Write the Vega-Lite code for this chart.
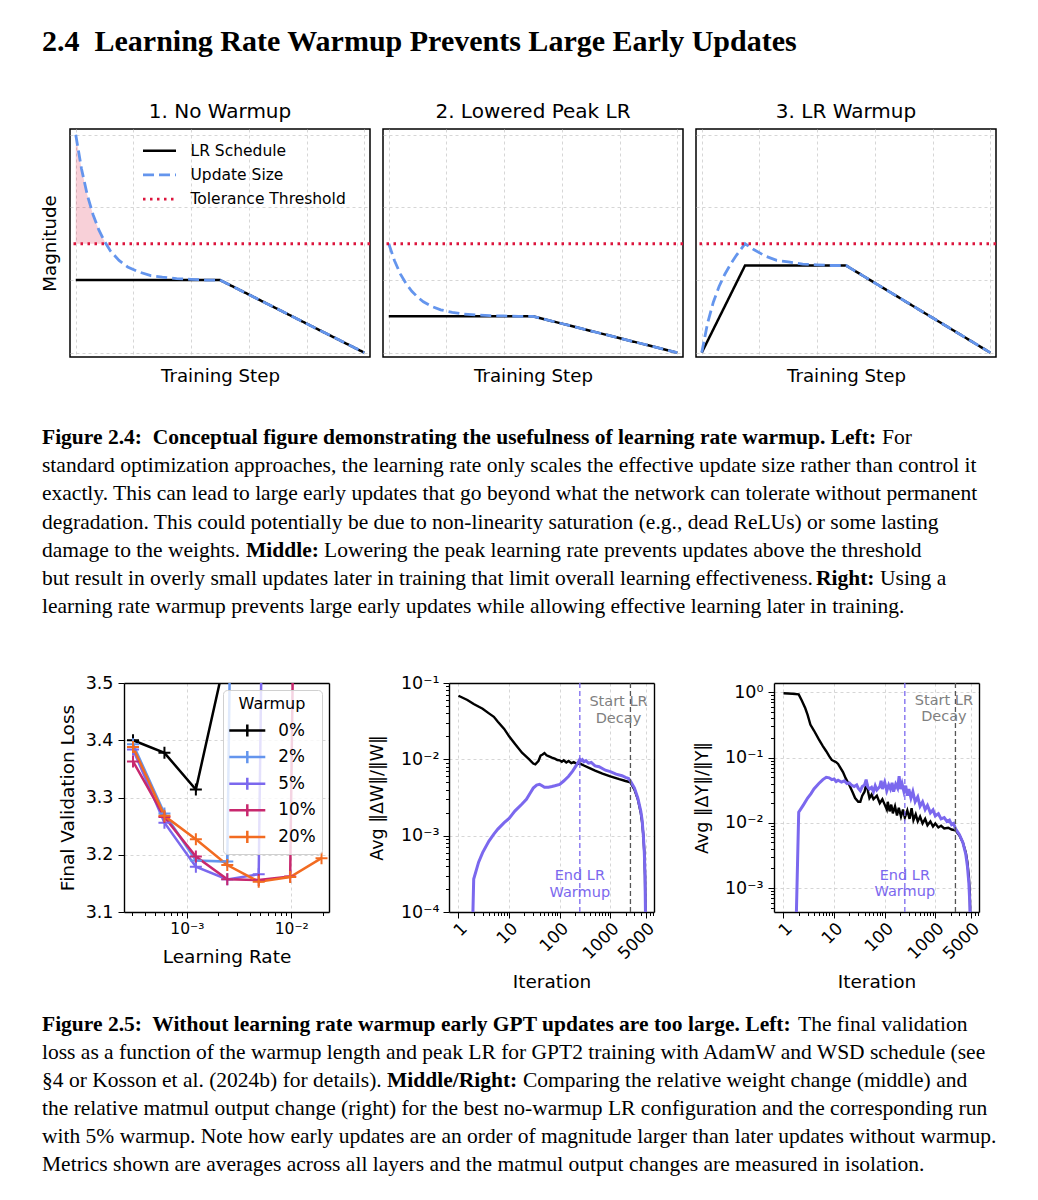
{
"$schema": "https://vega.github.io/schema/vega-lite/v6.json",
"padding": 0,
"autosize": {"type": "pad"},
"background": "white",
"config": {
  "font": "DejaVu Sans",
  "view": {"stroke": null},
  "axis": {"domain": false, "tickColor": "#000000", "labelColor": "#000000", "titleColor": "#000000", "titleFontWeight": "normal", "gridColor": "#cccccc", "gridDash": [3, 3], "gridWidth": 0.8, "tickWidth": 1, "domainColor": "#000000", "domainWidth": 1.4},
  "legend": {"labelColor": "#000000", "titleColor": "#000000"},
  "title": {"fontWeight": "normal", "color": "#000000"}
},
"datasets": {
  "heading": [{"line": 1, "text": "2.4\u00a0\u00a0Learning Rate Warmup Prevents Large Early Updates"}],
  "cap1": [
    {"line": 1, "seg": "b0", "text": "Figure 2.4:\u00a0 Conceptual figure demonstrating the usefulness of learning rate warmup. Left:"},
    {"line": 1, "seg": "a", "text": "For"},
    {"line": 2, "seg": "n0", "text": "standard optimization approaches, the learning rate only scales the effective update size rather than control it"},
    {"line": 3, "seg": "n0", "text": "exactly. This can lead to large early updates that go beyond what the network can tolerate without permanent"},
    {"line": 4, "seg": "n0", "text": "degradation. This could potentially be due to non-linearity saturation (e.g., dead ReLUs) or some lasting"},
    {"line": 5, "seg": "n0", "text": "damage to the weights."},
    {"line": 5, "seg": "m", "text": "Middle:"},
    {"line": 5, "seg": "m2", "text": "Lowering the peak learning rate prevents updates above the threshold"},
    {"line": 6, "seg": "n0", "text": "but result in overly small updates later in training that limit overall learning effectiveness."},
    {"line": 6, "seg": "r", "text": "Right:"},
    {"line": 6, "seg": "r2", "text": "Using a"},
    {"line": 7, "seg": "n0", "text": "learning rate warmup prevents large early updates while allowing effective learning later in training."}
  ],
  "cap2": [
    {"line": 1, "seg": "b0", "text": "Figure 2.5:\u00a0 Without learning rate warmup early GPT updates are too large. Left:"},
    {"line": 1, "seg": "f", "text": "The final validation"},
    {"line": 2, "seg": "n0", "text": "loss as a function of the warmup length and peak LR for GPT2 training with AdamW and WSD schedule (see"},
    {"line": 3, "seg": "n0", "text": "§4 or Kosson et al. (2024b) for details)."},
    {"line": 3, "seg": "mr", "text": "Middle/Right:"},
    {"line": 3, "seg": "mr2", "text": "Comparing the relative weight change (middle) and"},
    {"line": 4, "seg": "n0", "text": "the relative matmul output change (right) for the best no-warmup LR configuration and the corresponding run"},
    {"line": 5, "seg": "n0", "text": "with 5% warmup. Note how early updates are an order of magnitude larger than later updates without warmup."},
    {"line": 6, "seg": "n0", "text": "Metrics shown are averages across all layers and the matmul output changes are measured in isolation."}
  ],
  "p1area": [
    {"step": 0, "mag": 3.0}, {"step": 0.02, "mag": 2.53}, {"step": 0.04, "mag": 2.17}, {"step": 0.06, "mag": 1.9}, {"step": 0.08, "mag": 1.69}, {"step": 0.1, "mag": 1.53}, {"step": 0.104, "mag": 1.5}
  ],
  "p1": [
    {"series": "LR Schedule", "step": 0, "mag": 1}, {"series": "LR Schedule", "step": 0.5, "mag": 1}, {"series": "LR Schedule", "step": 1, "mag": 0},
    {"series": "Update Size", "step": 0, "mag": 3.0}, {"series": "Update Size", "step": 0.02, "mag": 2.53}, {"series": "Update Size", "step": 0.04, "mag": 2.17},
    {"series": "Update Size", "step": 0.06, "mag": 1.9}, {"series": "Update Size", "step": 0.08, "mag": 1.69}, {"series": "Update Size", "step": 0.1, "mag": 1.53},
    {"series": "Update Size", "step": 0.12, "mag": 1.4}, {"series": "Update Size", "step": 0.15, "mag": 1.27}, {"series": "Update Size", "step": 0.18, "mag": 1.18},
    {"series": "Update Size", "step": 0.22, "mag": 1.11}, {"series": "Update Size", "step": 0.26, "mag": 1.06}, {"series": "Update Size", "step": 0.3, "mag": 1.04},
    {"series": "Update Size", "step": 0.35, "mag": 1.02}, {"series": "Update Size", "step": 0.4, "mag": 1.01}, {"series": "Update Size", "step": 0.45, "mag": 1.0},
    {"series": "Update Size", "step": 0.5, "mag": 1.0}, {"series": "Update Size", "step": 1, "mag": 0}
  ],
  "p2": [
    {"series": "LR Schedule", "step": 0, "mag": 0.5}, {"series": "LR Schedule", "step": 0.5, "mag": 0.5}, {"series": "LR Schedule", "step": 1, "mag": 0},
    {"series": "Update Size", "step": 0, "mag": 1.5}, {"series": "Update Size", "step": 0.02, "mag": 1.265}, {"series": "Update Size", "step": 0.04, "mag": 1.085},
    {"series": "Update Size", "step": 0.06, "mag": 0.95}, {"series": "Update Size", "step": 0.08, "mag": 0.845}, {"series": "Update Size", "step": 0.1, "mag": 0.765},
    {"series": "Update Size", "step": 0.12, "mag": 0.7}, {"series": "Update Size", "step": 0.15, "mag": 0.635}, {"series": "Update Size", "step": 0.18, "mag": 0.59},
    {"series": "Update Size", "step": 0.22, "mag": 0.555}, {"series": "Update Size", "step": 0.26, "mag": 0.53}, {"series": "Update Size", "step": 0.3, "mag": 0.52},
    {"series": "Update Size", "step": 0.35, "mag": 0.51}, {"series": "Update Size", "step": 0.4, "mag": 0.505}, {"series": "Update Size", "step": 0.45, "mag": 0.5},
    {"series": "Update Size", "step": 0.5, "mag": 0.5}, {"series": "Update Size", "step": 1, "mag": 0}
  ],
  "p3": [
    {"series": "LR Schedule", "step": 0, "mag": 0}, {"series": "LR Schedule", "step": 0.15, "mag": 1.2}, {"series": "LR Schedule", "step": 0.5, "mag": 1.2}, {"series": "LR Schedule", "step": 1, "mag": 0},
    {"series": "Update Size", "step": 0, "mag": 0}, {"series": "Update Size", "step": 0.02, "mag": 0.405}, {"series": "Update Size", "step": 0.04, "mag": 0.694},
    {"series": "Update Size", "step": 0.06, "mag": 0.912}, {"series": "Update Size", "step": 0.08, "mag": 1.08}, {"series": "Update Size", "step": 0.1, "mag": 1.22},
    {"series": "Update Size", "step": 0.12, "mag": 1.34}, {"series": "Update Size", "step": 0.15, "mag": 1.5}, {"series": "Update Size", "step": 0.18, "mag": 1.42},
    {"series": "Update Size", "step": 0.22, "mag": 1.33}, {"series": "Update Size", "step": 0.26, "mag": 1.27}, {"series": "Update Size", "step": 0.3, "mag": 1.25},
    {"series": "Update Size", "step": 0.35, "mag": 1.22}, {"series": "Update Size", "step": 0.4, "mag": 1.21}, {"series": "Update Size", "step": 0.45, "mag": 1.2},
    {"series": "Update Size", "step": 0.5, "mag": 1.2}, {"series": "Update Size", "step": 1, "mag": 0}
  ],
  "loss": [
    {"warmup": "0%", "lr": 0.000305, "loss": 3.4}, {"warmup": "0%", "lr": 0.00061, "loss": 3.378}, {"warmup": "0%", "lr": 0.00122, "loss": 3.314}, {"warmup": "0%", "lr": 0.00244, "loss": 3.56}, {"warmup": "0%", "lr": 0.00488, "loss": 7.5},
    {"warmup": "2%", "lr": 0.000305, "loss": 3.393}, {"warmup": "2%", "lr": 0.00061, "loss": 3.272}, {"warmup": "2%", "lr": 0.00122, "loss": 3.19}, {"warmup": "2%", "lr": 0.00244, "loss": 3.188}, {"warmup": "2%", "lr": 0.00488, "loss": 7.5},
    {"warmup": "5%", "lr": 0.000305, "loss": 3.384}, {"warmup": "5%", "lr": 0.00061, "loss": 3.256}, {"warmup": "5%", "lr": 0.00122, "loss": 3.179}, {"warmup": "5%", "lr": 0.00244, "loss": 3.157}, {"warmup": "5%", "lr": 0.00488, "loss": 3.166}, {"warmup": "5%", "lr": 0.00977, "loss": 7.5},
    {"warmup": "10%", "lr": 0.000305, "loss": 3.363}, {"warmup": "10%", "lr": 0.00061, "loss": 3.266}, {"warmup": "10%", "lr": 0.00122, "loss": 3.197}, {"warmup": "10%", "lr": 0.00244, "loss": 3.157}, {"warmup": "10%", "lr": 0.00488, "loss": 3.156}, {"warmup": "10%", "lr": 0.00977, "loss": 3.162}, {"warmup": "10%", "lr": 0.0195, "loss": 7.5},
    {"warmup": "20%", "lr": 0.000305, "loss": 3.388}, {"warmup": "20%", "lr": 0.00061, "loss": 3.268}, {"warmup": "20%", "lr": 0.00122, "loss": 3.227}, {"warmup": "20%", "lr": 0.00244, "loss": 3.182}, {"warmup": "20%", "lr": 0.00488, "loss": 3.153}, {"warmup": "20%", "lr": 0.00977, "loss": 3.161}, {"warmup": "20%", "lr": 0.0195, "loss": 3.194}
  ],
  "dwN": [
    {"it": 1, "v": 0.068}, {"it": 1.5, "v": 0.06}, {"it": 2, "v": 0.053}, {"it": 3, "v": 0.046}, {"it": 4, "v": 0.04}, {"it": 5, "v": 0.036}, {"it": 6, "v": 0.031}, {"it": 8, "v": 0.025},
    {"it": 10, "v": 0.02}, {"it": 13, "v": 0.016}, {"it": 18, "v": 0.0122}, {"it": 25, "v": 0.01}, {"it": 30, "v": 0.0088}, {"it": 33, "v": 0.0086}, {"it": 38, "v": 0.0095}, {"it": 42, "v": 0.0112},
    {"it": 46, "v": 0.0116}, {"it": 50, "v": 0.0121}, {"it": 55, "v": 0.0113}, {"it": 60, "v": 0.011}, {"it": 70, "v": 0.0105}, {"it": 80, "v": 0.0102}, {"it": 90, "v": 0.0098}, {"it": 100, "v": 0.0097},
    {"it": 110, "v": 0.0093}, {"it": 120, "v": 0.0097}, {"it": 135, "v": 0.0091}, {"it": 150, "v": 0.0095}, {"it": 170, "v": 0.0089}, {"it": 190, "v": 0.0092}, {"it": 220, "v": 0.0087}, {"it": 250, "v": 0.0088},
    {"it": 300, "v": 0.0083}, {"it": 400, "v": 0.0076}, {"it": 500, "v": 0.0071}, {"it": 700, "v": 0.0065}, {"it": 1000, "v": 0.006}, {"it": 1500, "v": 0.0055}, {"it": 2000, "v": 0.0052}, {"it": 2500, "v": 0.005},
    {"it": 3000, "v": 0.004}, {"it": 3500, "v": 0.003}, {"it": 4000, "v": 0.002}, {"it": 4250, "v": 0.0015}, {"it": 4500, "v": 0.001}, {"it": 4700, "v": 0.0006}, {"it": 4850, "v": 0.0003}, {"it": 4950, "v": 0.0001},
    {"it": 4990, "v": 0.00002}, {"it": 5000, "v": 1e-12}
  ],
  "dwW": [
    {"it": 1, "v": 1e-12}, {"it": 2, "v": 0.00027}, {"it": 2.5, "v": 0.00045}, {"it": 3, "v": 0.0006}, {"it": 4, "v": 0.00085}, {"it": 5, "v": 0.00105}, {"it": 6, "v": 0.00122}, {"it": 8, "v": 0.00148},
    {"it": 10, "v": 0.00168}, {"it": 13, "v": 0.0021}, {"it": 18, "v": 0.0026}, {"it": 22, "v": 0.003}, {"it": 26, "v": 0.0036}, {"it": 30, "v": 0.0042}, {"it": 35, "v": 0.0046}, {"it": 40, "v": 0.0047},
    {"it": 45, "v": 0.0045}, {"it": 50, "v": 0.0043}, {"it": 60, "v": 0.0043}, {"it": 70, "v": 0.0044}, {"it": 80, "v": 0.0045}, {"it": 100, "v": 0.0047}, {"it": 120, "v": 0.0052}, {"it": 150, "v": 0.006},
    {"it": 180, "v": 0.007}, {"it": 210, "v": 0.0082}, {"it": 240, "v": 0.0095}, {"it": 250, "v": 0.01}, {"it": 265, "v": 0.0096}, {"it": 280, "v": 0.0099}, {"it": 300, "v": 0.0093}, {"it": 330, "v": 0.0096},
    {"it": 370, "v": 0.0089}, {"it": 420, "v": 0.0091}, {"it": 500, "v": 0.0082}, {"it": 600, "v": 0.008}, {"it": 800, "v": 0.0072}, {"it": 1000, "v": 0.0069}, {"it": 1300, "v": 0.0064}, {"it": 1700, "v": 0.0061},
    {"it": 2000, "v": 0.0058}, {"it": 2300, "v": 0.0056}, {"it": 2500, "v": 0.0052}, {"it": 3000, "v": 0.0042}, {"it": 3500, "v": 0.0031}, {"it": 4000, "v": 0.0021}, {"it": 4250, "v": 0.0016}, {"it": 4500, "v": 0.001},
    {"it": 4700, "v": 0.0006}, {"it": 4850, "v": 0.0003}, {"it": 4950, "v": 0.0001}, {"it": 4990, "v": 0.00002}, {"it": 5000, "v": 1e-12}
  ],
  "dyN": [
    {"it": 1, "v": 0.97}, {"it": 1.5, "v": 0.95}, {"it": 2, "v": 0.93}, {"it": 2.3, "v": 0.75}, {"it": 2.7, "v": 0.57}, {"it": 3, "v": 0.45}, {"it": 3.4, "v": 0.32}, {"it": 4, "v": 0.26},
    {"it": 5, "v": 0.19}, {"it": 6, "v": 0.15}, {"it": 7, "v": 0.125}, {"it": 8, "v": 0.105}, {"it": 9, "v": 0.092}, {"it": 10, "v": 0.088}, {"it": 11, "v": 0.085}, {"it": 12, "v": 0.08},
    {"it": 13, "v": 0.072}, {"it": 15, "v": 0.06}, {"it": 17, "v": 0.048}, {"it": 20, "v": 0.038}, {"it": 23, "v": 0.03}, {"it": 26, "v": 0.024}, {"it": 30, "v": 0.021}, {"it": 33, "v": 0.021},
    {"it": 36, "v": 0.026}, {"it": 40, "v": 0.03}, {"it": 44, "v": 0.042}, {"it": 47, "v": 0.03}, {"it": 50, "v": 0.024}, {"it": 55, "v": 0.027}, {"it": 60, "v": 0.023}, {"it": 70, "v": 0.026},
    {"it": 80, "v": 0.02}, {"it": 90, "v": 0.023}, {"it": 100, "v": 0.019}, {"it": 110, "v": 0.016}, {"it": 115, "v": 0.021}, {"it": 125, "v": 0.015}, {"it": 135, "v": 0.019}, {"it": 145, "v": 0.014},
    {"it": 160, "v": 0.018}, {"it": 175, "v": 0.013}, {"it": 190, "v": 0.017}, {"it": 210, "v": 0.0125}, {"it": 230, "v": 0.016}, {"it": 250, "v": 0.012}, {"it": 280, "v": 0.0155}, {"it": 310, "v": 0.0115},
    {"it": 340, "v": 0.0168}, {"it": 370, "v": 0.011}, {"it": 410, "v": 0.0135}, {"it": 450, "v": 0.0105}, {"it": 500, "v": 0.0125}, {"it": 560, "v": 0.0098}, {"it": 630, "v": 0.0115}, {"it": 700, "v": 0.0092},
    {"it": 800, "v": 0.0105}, {"it": 900, "v": 0.0088}, {"it": 1000, "v": 0.0098}, {"it": 1150, "v": 0.0085}, {"it": 1300, "v": 0.009}, {"it": 1500, "v": 0.0082}, {"it": 1800, "v": 0.0084}, {"it": 2100, "v": 0.0079},
    {"it": 2500, "v": 0.0077}, {"it": 3000, "v": 0.0064}, {"it": 3500, "v": 0.005}, {"it": 4000, "v": 0.0035}, {"it": 4300, "v": 0.0025}, {"it": 4600, "v": 0.0015}, {"it": 4800, "v": 0.0008}, {"it": 4900, "v": 0.0004},
    {"it": 4970, "v": 0.00015}, {"it": 5000, "v": 1e-12}
  ],
  "dyW": [
    {"it": 1, "v": 1e-12}, {"it": 2, "v": 0.0145}, {"it": 2.5, "v": 0.019}, {"it": 3, "v": 0.024}, {"it": 3.5, "v": 0.028}, {"it": 4, "v": 0.033}, {"it": 5, "v": 0.04}, {"it": 6, "v": 0.046},
    {"it": 7, "v": 0.05}, {"it": 8, "v": 0.049}, {"it": 9, "v": 0.046}, {"it": 10, "v": 0.047}, {"it": 11, "v": 0.043}, {"it": 12, "v": 0.045}, {"it": 14, "v": 0.042}, {"it": 16, "v": 0.044},
    {"it": 18, "v": 0.04}, {"it": 20, "v": 0.041}, {"it": 22, "v": 0.038}, {"it": 25, "v": 0.036}, {"it": 28, "v": 0.038}, {"it": 30, "v": 0.034}, {"it": 33, "v": 0.031}, {"it": 36, "v": 0.036},
    {"it": 40, "v": 0.038}, {"it": 43, "v": 0.046}, {"it": 46, "v": 0.036}, {"it": 50, "v": 0.033}, {"it": 55, "v": 0.035}, {"it": 60, "v": 0.03}, {"it": 65, "v": 0.037}, {"it": 70, "v": 0.032},
    {"it": 80, "v": 0.036}, {"it": 85, "v": 0.044}, {"it": 90, "v": 0.033}, {"it": 100, "v": 0.042}, {"it": 110, "v": 0.031}, {"it": 120, "v": 0.038}, {"it": 130, "v": 0.033}, {"it": 140, "v": 0.041},
    {"it": 150, "v": 0.03}, {"it": 165, "v": 0.039}, {"it": 180, "v": 0.034}, {"it": 193, "v": 0.052}, {"it": 205, "v": 0.033}, {"it": 220, "v": 0.04}, {"it": 240, "v": 0.03}, {"it": 260, "v": 0.037},
    {"it": 280, "v": 0.026}, {"it": 300, "v": 0.033}, {"it": 330, "v": 0.024}, {"it": 360, "v": 0.03}, {"it": 400, "v": 0.021}, {"it": 450, "v": 0.025}, {"it": 500, "v": 0.018}, {"it": 560, "v": 0.021},
    {"it": 630, "v": 0.016}, {"it": 700, "v": 0.0185}, {"it": 800, "v": 0.0142}, {"it": 900, "v": 0.0158}, {"it": 1000, "v": 0.0128}, {"it": 1150, "v": 0.0138}, {"it": 1300, "v": 0.0115}, {"it": 1500, "v": 0.012},
    {"it": 1700, "v": 0.0105}, {"it": 1900, "v": 0.011}, {"it": 2100, "v": 0.0094}, {"it": 2300, "v": 0.0098}, {"it": 2500, "v": 0.0082}, {"it": 3000, "v": 0.0066}, {"it": 3500, "v": 0.005}, {"it": 4000, "v": 0.0033},
    {"it": 4300, "v": 0.0022}, {"it": 4600, "v": 0.0012}, {"it": 4800, "v": 0.0006}, {"it": 4900, "v": 0.0003}, {"it": 5000, "v": 1e-12}
  ]
},
"columns": 4,
"align": "each",
"bounds": "flush",
"spacing": {"row": 0, "column": 13},
"resolve": {"scale": {"color": "independent", "strokeDash": "independent"}},
"concat": [
  {"width": 57, "height": 129, "data": {"name": "heading"},
   "mark": {"type": "text", "font": "Liberation Serif", "fontSize": 30, "fontWeight": "bold", "align": "left", "baseline": "alphabetic", "color": "#000000"},
   "encoding": {"x": {"datum": 0, "type": "quantitative", "scale": {"domain": [-42, 15]}, "axis": null}, "y": {"field": "line", "type": "quantitative", "scale": {"domain": [0, 2.529], "reverse": true}, "axis": null}, "text": {"field": "text"}}},
  {"width": 1, "height": 1, "data": {"values": []}, "mark": "point"},
  {"width": 1, "height": 1, "data": {"values": []}, "mark": "point"},
  {"width": 1, "height": 1, "data": {"values": []}, "mark": "point"},

  {"width": 57, "height": 1, "data": {"values": []}, "mark": "point"},
  {"width": 300, "height": 228, "view": {"stroke": "black", "strokeWidth": 1.5},
   "title": {"text": "1. No Warmup", "fontSize": 20, "offset": 7},
   "layer": [
    {"data": {"name": "p1area"}, "mark": {"type": "area", "color": "#DC143C", "opacity": 0.2},
     "encoding": {"x": {"field": "step", "type": "quantitative", "scale": {"domain": [-0.02, 1.02], "nice": false, "zero": false}, "axis": {"title": "Training Step", "titleFontSize": 18.2, "titlePadding": 10, "labels": false, "ticks": false, "values": [0, 0.2, 0.4, 0.6, 0.8, 1], "grid": true}},
                  "y": {"field": "mag", "type": "quantitative", "scale": {"domain": [-0.06, 3.08], "nice": false, "zero": false}, "axis": {"title": "Magnitude", "titleFontSize": 18.2, "titlePadding": 11, "labels": false, "ticks": false, "values": [0, 1, 2, 3], "grid": true}},
                  "y2": {"datum": 1.5}}},
    {"data": {"name": "p1"}, "transform": [{"filter": "datum.series == 'LR Schedule'"}], "mark": {"type": "line", "strokeWidth": 2.5},
     "encoding": {"x": {"field": "step", "type": "quantitative"}, "y": {"field": "mag", "type": "quantitative"},
                  "color": {"field": "series", "type": "nominal", "scale": {"domain": ["LR Schedule", "Update Size", "Tolerance Threshold"], "range": ["#000000", "#6495ED", "#DC143C"]}, "legend": {"title": null, "orient": "none", "legendX": 73, "legendY": 12.7, "symbolType": "M-2.2,0L2.2,0", "symbolSize": 225, "symbolOffset": 7.5, "symbolStrokeWidth": 2.6, "labelOffset": 22, "labelFontSize": 15.5, "rowPadding": 6.2, "padding": 0}},
                  "strokeDash": {"field": "series", "type": "nominal", "scale": {"domain": ["LR Schedule", "Update Size", "Tolerance Threshold"], "range": [[1, 0], [11, 5], [2.5, 4.5]]}, "legend": {"title": null, "orient": "none", "legendX": 73, "legendY": 12.7, "symbolType": "M-2.2,0L2.2,0", "symbolSize": 225, "symbolOffset": 7.5, "symbolStrokeWidth": 2.6, "labelOffset": 22, "labelFontSize": 15.5, "rowPadding": 6.2, "padding": 0}}}},
    {"data": {"name": "p1"}, "transform": [{"filter": "datum.series == 'Update Size'"}], "mark": {"type": "line", "strokeWidth": 2.8},
     "encoding": {"x": {"field": "step", "type": "quantitative"}, "y": {"field": "mag", "type": "quantitative"},
                  "color": {"field": "series", "type": "nominal"}, "strokeDash": {"field": "series", "type": "nominal"}}},
    {"data": {"values": [{}]}, "mark": {"type": "rule", "strokeWidth": 2.8},
     "encoding": {"y": {"datum": 1.5, "type": "quantitative"}, "color": {"datum": "Tolerance Threshold", "type": "nominal"}, "strokeDash": {"datum": "Tolerance Threshold", "type": "nominal"}}}
   ]},
  {"width": 300, "height": 228, "view": {"stroke": "black", "strokeWidth": 1.5},
   "title": {"text": "2. Lowered Peak LR", "fontSize": 20, "offset": 7},
   "layer": [
    {"data": {"name": "p2"}, "transform": [{"filter": "datum.series == 'LR Schedule'"}], "mark": {"type": "line", "strokeWidth": 2.5},
     "encoding": {"x": {"field": "step", "type": "quantitative", "scale": {"domain": [-0.02, 1.02], "nice": false, "zero": false}, "axis": {"title": "Training Step", "titleFontSize": 18.2, "titlePadding": 10, "labels": false, "ticks": false, "values": [0, 0.2, 0.4, 0.6, 0.8, 1], "grid": true}},
                  "y": {"field": "mag", "type": "quantitative", "scale": {"domain": [-0.06, 3.08], "nice": false, "zero": false}, "axis": {"title": null, "labels": false, "ticks": false, "values": [0, 1, 2, 3], "grid": true}},
                  "color": {"field": "series", "type": "nominal", "scale": {"domain": ["LR Schedule", "Update Size", "Tolerance Threshold"], "range": ["#000000", "#6495ED", "#DC143C"]}, "legend": null},
                  "strokeDash": {"field": "series", "type": "nominal", "scale": {"domain": ["LR Schedule", "Update Size", "Tolerance Threshold"], "range": [[1, 0], [11, 5], [2.5, 4.5]]}, "legend": null}}},
    {"data": {"name": "p2"}, "transform": [{"filter": "datum.series == 'Update Size'"}], "mark": {"type": "line", "strokeWidth": 2.8},
     "encoding": {"x": {"field": "step", "type": "quantitative"}, "y": {"field": "mag", "type": "quantitative"},
                  "color": {"field": "series", "type": "nominal", "legend": null}, "strokeDash": {"field": "series", "type": "nominal", "legend": null}}},
    {"data": {"values": [{}]}, "mark": {"type": "rule", "strokeWidth": 2.8},
     "encoding": {"y": {"datum": 1.5, "type": "quantitative"}, "color": {"datum": "Tolerance Threshold", "type": "nominal", "legend": null}, "strokeDash": {"datum": "Tolerance Threshold", "type": "nominal", "legend": null}}}
   ]},
  {"width": 300, "height": 228, "view": {"stroke": "black", "strokeWidth": 1.5},
   "title": {"text": "3. LR Warmup", "fontSize": 20, "offset": 7},
   "layer": [
    {"data": {"name": "p3"}, "transform": [{"filter": "datum.series == 'LR Schedule'"}], "mark": {"type": "line", "strokeWidth": 2.5},
     "encoding": {"x": {"field": "step", "type": "quantitative", "scale": {"domain": [-0.02, 1.02], "nice": false, "zero": false}, "axis": {"title": "Training Step", "titleFontSize": 18.2, "titlePadding": 10, "labels": false, "ticks": false, "values": [0, 0.2, 0.4, 0.6, 0.8, 1], "grid": true}},
                  "y": {"field": "mag", "type": "quantitative", "scale": {"domain": [-0.06, 3.08], "nice": false, "zero": false}, "axis": {"title": null, "labels": false, "ticks": false, "values": [0, 1, 2, 3], "grid": true}},
                  "color": {"field": "series", "type": "nominal", "scale": {"domain": ["LR Schedule", "Update Size", "Tolerance Threshold"], "range": ["#000000", "#6495ED", "#DC143C"]}, "legend": null},
                  "strokeDash": {"field": "series", "type": "nominal", "scale": {"domain": ["LR Schedule", "Update Size", "Tolerance Threshold"], "range": [[1, 0], [11, 5], [2.5, 4.5]]}, "legend": null}}},
    {"data": {"name": "p3"}, "transform": [{"filter": "datum.series == 'Update Size'"}], "mark": {"type": "line", "strokeWidth": 2.8},
     "encoding": {"x": {"field": "step", "type": "quantitative"}, "y": {"field": "mag", "type": "quantitative"},
                  "color": {"field": "series", "type": "nominal", "legend": null}, "strokeDash": {"field": "series", "type": "nominal", "legend": null}}},
    {"data": {"values": [{}]}, "mark": {"type": "rule", "strokeWidth": 2.8},
     "encoding": {"y": {"datum": 1.5, "type": "quantitative"}, "color": {"datum": "Tolerance Threshold", "type": "nominal", "legend": null}, "strokeDash": {"datum": "Tolerance Threshold", "type": "nominal", "legend": null}}}
   ]},

  {"width": 57, "height": 326, "data": {"name": "cap1"},
   "encoding": {"x": {"datum": 0, "type": "quantitative", "scale": {"domain": [-42, 15]}, "axis": null}, "y": {"field": "line", "type": "quantitative", "scale": {"domain": [-2.085, 9.475], "reverse": true}, "axis": null}, "text": {"field": "text"}},
   "layer": [
    {"transform": [{"filter": "datum.seg == 'n0'"}], "mark": {"type": "text", "font": "Liberation Serif", "fontSize": 21.5, "align": "left", "baseline": "alphabetic", "color": "#000000"}},
    {"transform": [{"filter": "datum.seg == 'b0'"}], "mark": {"type": "text", "font": "Liberation Serif", "fontSize": 21.5, "fontWeight": "bold", "align": "left", "baseline": "alphabetic", "color": "#000000"}},
    {"transform": [{"filter": "datum.seg == 'a'"}], "mark": {"type": "text", "font": "Liberation Serif", "fontSize": 21.5, "align": "left", "baseline": "alphabetic", "color": "#000000", "dx": 840}},
    {"transform": [{"filter": "datum.seg == 'm'"}], "mark": {"type": "text", "font": "Liberation Serif", "fontSize": 21.5, "fontWeight": "bold", "align": "left", "baseline": "alphabetic", "color": "#000000", "dx": 204}},
    {"transform": [{"filter": "datum.seg == 'm2'"}], "mark": {"type": "text", "font": "Liberation Serif", "fontSize": 21.5, "align": "left", "baseline": "alphabetic", "color": "#000000", "dx": 282}},
    {"transform": [{"filter": "datum.seg == 'r'"}], "mark": {"type": "text", "font": "Liberation Serif", "fontSize": 21.5, "fontWeight": "bold", "align": "left", "baseline": "alphabetic", "color": "#000000", "dx": 774}},
    {"transform": [{"filter": "datum.seg == 'r2'"}], "mark": {"type": "text", "font": "Liberation Serif", "fontSize": 21.5, "align": "left", "baseline": "alphabetic", "color": "#000000", "dx": 838}}
   ]},
  {"width": 1, "height": 1, "data": {"values": []}, "mark": "point"},
  {"width": 1, "height": 1, "data": {"values": []}, "mark": "point"},
  {"width": 1, "height": 1, "data": {"values": []}, "mark": "point"},

  {"width": 57, "height": 1, "data": {"values": []}, "mark": "point"},
  {"width": 259, "height": 229,
   "data": {"name": "loss"},
   "resolve": {"axis": {"x": "independent", "y": "independent"}},
   "layer": [
    {"mark": {"type": "line", "strokeWidth": 2.5, "clip": true},
     "encoding": {"x": {"field": "lr", "type": "quantitative", "scale": {"type": "log", "domain": [0.00025, 0.023], "nice": false, "range": [54, 259]}, "axis": {"orient": "bottom", "domain": true, "values": [0.001, 0.01], "labelExpr": "datum.value < 0.005 ? '10⁻³' : '10⁻²'", "title": "Learning Rate", "titleFontSize": 18.5, "titlePadding": 11, "labelFontSize": 15.5, "tickSize": 6, "labelPadding": 3, "grid": true}},
                  "y": {"field": "loss", "type": "quantitative", "scale": {"domain": [3.1, 3.5], "nice": false, "zero": false}, "axis": {"orient": "left", "offset": -54, "domain": true, "values": [3.1, 3.2, 3.3, 3.4, 3.5], "format": ".1f", "title": "Final Validation Loss", "titleFontSize": 18.5, "titlePadding": 8, "labelFontSize": 17.5, "tickSize": 6, "labelPadding": 5, "grid": true}},
                  "color": {"field": "warmup", "type": "nominal", "scale": {"domain": ["0%", "2%", "5%", "10%", "20%"], "range": ["#000000", "#6495ED", "#7B68EE", "#C8286E", "#F26B21"]},
                            "legend": {"title": "Warmup", "orient": "none", "legendX": 153, "legendY": 7, "titleFontSize": 16, "titleFontWeight": "normal", "titleAnchor": "middle", "titlePadding": 8, "labelFontSize": 16.8, "symbolType": "M-2,0L2,0M0,-0.67L0,0.67", "symbolSize": 324, "symbolStrokeWidth": 2.5, "symbolOffset": 7.8, "labelOffset": 20.5, "rowPadding": 3.6, "padding": 6, "fillColor": "rgba(255,255,255,0.8)", "strokeColor": "#d0d0d0", "cornerRadius": 4}}}},
    {"mark": {"type": "point", "shape": "M-1,0L1,0M0,-1L0,1", "size": 144, "filled": false, "strokeWidth": 2, "opacity": 1, "clip": true},
     "encoding": {"x": {"field": "lr", "type": "quantitative", "axis": {"orient": "bottom", "values": [0.0003, 0.0004, 0.0005, 0.0006, 0.0007, 0.0008, 0.0009, 0.002, 0.003, 0.004, 0.005, 0.006, 0.007, 0.008, 0.009, 0.02], "labels": false, "tickSize": 3.5, "grid": false, "title": null}},
                  "y": {"field": "loss", "type": "quantitative", "axis": null},
                  "color": {"field": "warmup", "type": "nominal",
                            "legend": {"title": "Warmup", "orient": "none", "legendX": 153, "legendY": 7, "titleFontSize": 16, "titleFontWeight": "normal", "titleAnchor": "middle", "titlePadding": 8, "labelFontSize": 16.8, "symbolType": "M-2,0L2,0M0,-0.67L0,0.67", "symbolSize": 324, "symbolStrokeWidth": 2.5, "symbolOffset": 7.8, "labelOffset": 20.5, "rowPadding": 3.6, "padding": 6, "fillColor": "rgba(255,255,255,0.8)", "strokeColor": "#d0d0d0", "cornerRadius": 4}}}},
    {"data": {"values": [{}]}, "mark": {"type": "point", "opacity": 0},
     "encoding": {"x": {"datum": 0.001, "type": "quantitative", "axis": {"orient": "top", "domain": true, "ticks": false, "labels": false, "grid": false, "title": null}},
                  "y": {"datum": 3.3, "type": "quantitative", "axis": {"orient": "right", "domain": true, "ticks": false, "labels": false, "grid": false, "title": null}}}}
   ]},
  {"width": 271, "height": 229,
   "resolve": {"axis": {"x": "independent", "y": "independent"}},
   "layer": [
    {"data": {"name": "dwN"}, "mark": {"type": "line", "color": "#000000", "strokeWidth": 2.4, "clip": true},
     "encoding": {"x": {"field": "it", "type": "quantitative", "scale": {"type": "log", "domain": [0.65, 7300], "nice": false, "range": [66, 271]}, "axis": {"orient": "bottom", "domain": true, "values": [1, 10, 100, 1000, 5000], "format": "d", "labelAngle": -45, "labelOverlap": false, "labelFontSize": 17, "tickSize": 6, "labelPadding": 2, "grid": true, "title": "Iteration", "titleFontSize": 18.5, "titlePadding": 11}},
                  "y": {"field": "v", "type": "quantitative", "scale": {"type": "log", "domain": [0.0001, 0.1], "nice": false}, "axis": {"orient": "left", "offset": -66, "domain": true, "values": [0.0001, 0.001, 0.01, 0.1], "labelExpr": "datum.value > 0.05 ? '10⁻¹' : datum.value > 0.005 ? '10⁻²' : datum.value > 0.0005 ? '10⁻³' : '10⁻⁴'", "labelOverlap": false, "labelFontSize": 17.5, "tickSize": 6, "labelPadding": 4, "grid": true, "title": "Avg ‖ΔW‖/‖W‖", "titleFontSize": 17.5, "titlePadding": 14}}}},
    {"data": {"name": "dwW"}, "mark": {"type": "line", "color": "#7B68EE", "strokeWidth": 3, "clip": true},
     "encoding": {"x": {"field": "it", "type": "quantitative", "axis": null}, "y": {"field": "v", "type": "quantitative", "axis": null}}},
    {"data": {"values": [{}]}, "mark": {"type": "rule", "color": "#7B68EE", "strokeDash": [5, 3], "strokeWidth": 1.3},
     "encoding": {"x": {"datum": 250, "type": "quantitative", "axis": null}}},
    {"data": {"values": [{}]}, "mark": {"type": "rule", "color": "#555555", "strokeDash": [5, 3], "strokeWidth": 1.3},
     "encoding": {"x": {"datum": 2500, "type": "quantitative", "axis": null}}},
    {"data": {"values": [{}]}, "mark": {"type": "text", "color": "#808080", "fontSize": 14.5, "lineHeight": 16.7, "align": "center", "baseline": "middle", "text": ["Start LR", "Decay"]},
     "encoding": {"x": {"datum": 1450, "type": "quantitative", "axis": null}, "y": {"datum": 0.0564, "type": "quantitative", "axis": null}}},
    {"data": {"values": [{}]}, "mark": {"type": "text", "color": "#7B68EE", "fontSize": 14.5, "lineHeight": 16.7, "align": "center", "baseline": "middle", "text": ["End LR", "Warmup"]},
     "encoding": {"x": {"datum": 250, "type": "quantitative", "axis": null}, "y": {"datum": 0.000294, "type": "quantitative", "axis": null}}},
    {"data": {"values": [{}]}, "mark": {"type": "point", "opacity": 0},
     "encoding": {"x": {"datum": 10, "type": "quantitative", "axis": {"orient": "bottom", "values": [2, 3, 4, 5, 6, 7, 8, 9, 20, 30, 40, 50, 60, 70, 80, 90, 200, 300, 400, 500, 600, 700, 800, 900, 2000, 3000, 4000, 6000, 7000], "labels": false, "tickSize": 3.5, "grid": false, "title": null}},
                  "y": {"datum": 0.01, "type": "quantitative", "axis": {"orient": "left", "offset": -66, "values": [0.0002, 0.0003, 0.0004, 0.0005, 0.0006, 0.0007, 0.0008, 0.0009, 0.002, 0.003, 0.004, 0.005, 0.006, 0.007, 0.008, 0.009, 0.02, 0.03, 0.04, 0.05, 0.06, 0.07, 0.08, 0.09], "labels": false, "tickSize": 3.5, "grid": false, "title": null}}}},
    {"data": {"values": [{}]}, "mark": {"type": "point", "opacity": 0},
     "encoding": {"x": {"datum": 10, "type": "quantitative", "axis": {"orient": "top", "domain": true, "ticks": false, "labels": false, "grid": false, "title": null}},
                  "y": {"datum": 0.01, "type": "quantitative", "axis": {"orient": "right", "domain": true, "ticks": false, "labels": false, "grid": false, "title": null}}}}
   ]},
  {"width": 283, "height": 229,
   "resolve": {"axis": {"x": "independent", "y": "independent"}},
   "layer": [
    {"data": {"name": "dyN"}, "mark": {"type": "line", "color": "#000000", "strokeWidth": 2.4, "clip": true},
     "encoding": {"x": {"field": "it", "type": "quantitative", "scale": {"type": "log", "domain": [0.65, 7300], "nice": false, "range": [78, 283]}, "axis": {"orient": "bottom", "domain": true, "values": [1, 10, 100, 1000, 5000], "format": "d", "labelAngle": -45, "labelOverlap": false, "labelFontSize": 17, "tickSize": 6, "labelPadding": 2, "grid": true, "title": "Iteration", "titleFontSize": 18.5, "titlePadding": 11}},
                  "y": {"field": "v", "type": "quantitative", "scale": {"type": "log", "domain": [0.00043, 1.39], "nice": false}, "axis": {"orient": "left", "offset": -78, "domain": true, "values": [0.001, 0.01, 0.1, 1], "labelExpr": "datum.value > 0.5 ? '10⁰' : datum.value > 0.05 ? '10⁻¹' : datum.value > 0.005 ? '10⁻²' : '10⁻³'", "labelOverlap": false, "labelFontSize": 17.5, "tickSize": 6, "labelPadding": 5, "grid": true, "title": "Avg ‖ΔY‖/‖Y‖", "titleFontSize": 17.5, "titlePadding": 13}}}},
    {"data": {"name": "dyW"}, "mark": {"type": "line", "color": "#7B68EE", "strokeWidth": 3, "clip": true},
     "encoding": {"x": {"field": "it", "type": "quantitative", "axis": null}, "y": {"field": "v", "type": "quantitative", "axis": null}}},
    {"data": {"values": [{}]}, "mark": {"type": "rule", "color": "#7B68EE", "strokeDash": [5, 3], "strokeWidth": 1.3},
     "encoding": {"x": {"datum": 250, "type": "quantitative", "axis": null}}},
    {"data": {"values": [{}]}, "mark": {"type": "rule", "color": "#555555", "strokeDash": [5, 3], "strokeWidth": 1.3},
     "encoding": {"x": {"datum": 2500, "type": "quantitative", "axis": null}}},
    {"data": {"values": [{}]}, "mark": {"type": "text", "color": "#808080", "fontSize": 14.5, "lineHeight": 16.7, "align": "center", "baseline": "middle", "text": ["Start LR", "Decay"]},
     "encoding": {"x": {"datum": 1480, "type": "quantitative", "axis": null}, "y": {"datum": 0.744, "type": "quantitative", "axis": null}}},
    {"data": {"values": [{}]}, "mark": {"type": "text", "color": "#7B68EE", "fontSize": 14.5, "lineHeight": 16.7, "align": "center", "baseline": "middle", "text": ["End LR", "Warmup"]},
     "encoding": {"x": {"datum": 250, "type": "quantitative", "axis": null}, "y": {"datum": 0.00155, "type": "quantitative", "axis": null}}},
    {"data": {"values": [{}]}, "mark": {"type": "point", "opacity": 0},
     "encoding": {"x": {"datum": 10, "type": "quantitative", "axis": {"orient": "bottom", "values": [2, 3, 4, 5, 6, 7, 8, 9, 20, 30, 40, 50, 60, 70, 80, 90, 200, 300, 400, 500, 600, 700, 800, 900, 2000, 3000, 4000, 6000, 7000], "labels": false, "tickSize": 3.5, "grid": false, "title": null}},
                  "y": {"datum": 0.01, "type": "quantitative", "axis": {"orient": "left", "offset": -78, "values": [0.0005, 0.0006, 0.0007, 0.0008, 0.0009, 0.002, 0.003, 0.004, 0.005, 0.006, 0.007, 0.008, 0.009, 0.02, 0.03, 0.04, 0.05, 0.06, 0.07, 0.08, 0.09, 0.2, 0.3, 0.4, 0.5, 0.6, 0.7, 0.8, 0.9], "labels": false, "tickSize": 3.5, "grid": false, "title": null}}}},
    {"data": {"values": [{}]}, "mark": {"type": "point", "opacity": 0},
     "encoding": {"x": {"datum": 10, "type": "quantitative", "axis": {"orient": "top", "domain": true, "ticks": false, "labels": false, "grid": false, "title": null}},
                  "y": {"datum": 0.01, "type": "quantitative", "axis": {"orient": "right", "domain": true, "ticks": false, "labels": false, "grid": false, "title": null}}}}
   ]},

  {"width": 57, "height": 288, "data": {"name": "cap2"},
   "encoding": {"x": {"datum": 0, "type": "quantitative", "scale": {"domain": [-42, 15]}, "axis": null}, "y": {"field": "line", "type": "quantitative", "scale": {"domain": [-3.25, 7.036], "reverse": true}, "axis": null}, "text": {"field": "text"}},
   "layer": [
    {"transform": [{"filter": "datum.seg == 'n0'"}], "mark": {"type": "text", "font": "Liberation Serif", "fontSize": 21.5, "align": "left", "baseline": "alphabetic", "color": "#000000"}},
    {"transform": [{"filter": "datum.seg == 'b0'"}], "mark": {"type": "text", "font": "Liberation Serif", "fontSize": 21.5, "fontWeight": "bold", "align": "left", "baseline": "alphabetic", "color": "#000000"}},
    {"transform": [{"filter": "datum.seg == 'f'"}], "mark": {"type": "text", "font": "Liberation Serif", "fontSize": 21.5, "align": "left", "baseline": "alphabetic", "color": "#000000", "dx": 756}},
    {"transform": [{"filter": "datum.seg == 'mr'"}], "mark": {"type": "text", "font": "Liberation Serif", "fontSize": 21.5, "fontWeight": "bold", "align": "left", "baseline": "alphabetic", "color": "#000000", "dx": 345}},
    {"transform": [{"filter": "datum.seg == 'mr2'"}], "mark": {"type": "text", "font": "Liberation Serif", "fontSize": 21.5, "align": "left", "baseline": "alphabetic", "color": "#000000", "dx": 481}}
   ]},
  {"width": 1, "height": 1, "data": {"values": []}, "mark": "point"},
  {"width": 1, "height": 1, "data": {"values": []}, "mark": "point"},
  {"width": 1, "height": 1, "data": {"values": []}, "mark": "point"}
]
}
